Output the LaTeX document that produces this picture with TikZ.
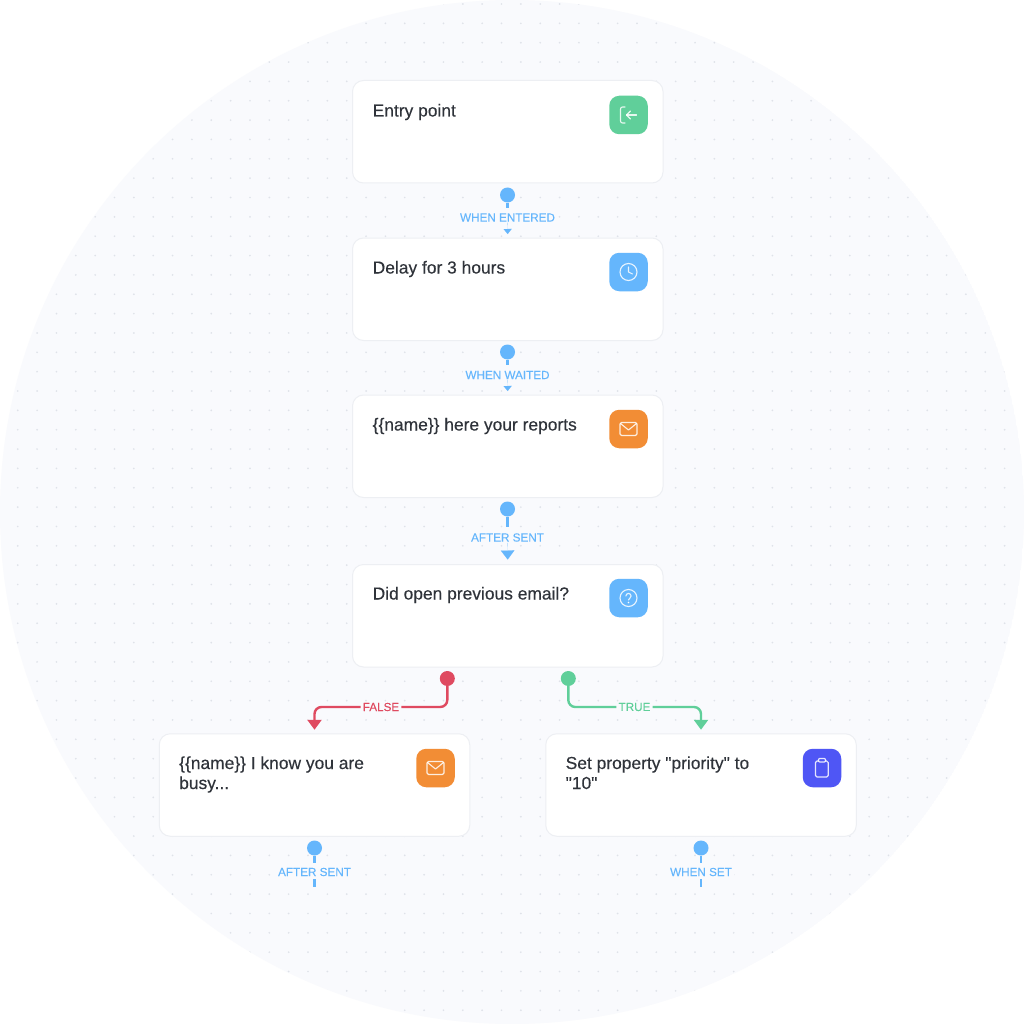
\documentclass[tikz,border=0pt]{standalone}
\usepackage{fontspec}
\newfontfamily\cardfont[FakeBold=0.25]{Liberation Sans}
\newfontfamily\labfont[FakeBold=0.1]{Liberation Sans}
\usetikzlibrary{arrows.meta}
\definecolor{bgc}{HTML}{F9FAFD}
\definecolor{dotc}{HTML}{DFE2E9}
\definecolor{cardline}{HTML}{EDEFF3}
\definecolor{ink}{HTML}{2F333A}
\definecolor{bluec}{HTML}{65B6FC}
\definecolor{greenc}{HTML}{60CF9A}
\definecolor{orangec}{HTML}{F28D35}
\definecolor{purplec}{HTML}{4F56F5}
\definecolor{redc}{HTML}{DF4A60}
\tikzset{
  card/.style={draw=cardline,line width=1pt,fill=white,rounded corners=11pt,minimum width=310.5pt,minimum height=102.5pt,inner sep=0pt},
  title/.style={anchor=base west,inner sep=0pt,align=left,text=ink,font=\cardfont\fontsize{17.4}{20}\selectfont},
  iconbox/.style={rounded corners=10pt,minimum width=38.5pt,minimum height=38.5pt,inner sep=0pt},
  pin/.style={circle,minimum size=15pt,inner sep=0pt},
  lab/.style={font=\labfont\fontsize{11.7}{13}\selectfont,fill=bgc,inner xsep=2pt,inner ysep=1pt},
  stub/.style={line width=2.4pt,draw=bluec},
  branch/.style={line width=2.4pt,rounded corners=7pt},
  branchtip/.style={-{Triangle[length=10pt,width=14pt]}},
  smalltip/.style={draw=bluec,line width=.1pt,-{Triangle[length=5pt,width=8pt]}},
  bigtip/.style={draw=bluec,line width=.1pt,-{Triangle[length=9pt,width=13.5pt]}},
  glyph/.style={draw=white,line width=1.1pt,line cap=round,line join=round,opacity=.85},
}
\begin{document}
\begin{tikzpicture}[x=1pt,y=-1pt]
\useasboundingbox[fill=white] (0,0) rectangle (1024,1024);
\begin{scope}
  \clip (512,512) circle (512);
  \fill[bgc] (512,512) circle (512);
  \fill[dotc] \foreach \i in {-18,...,34} {\foreach \j in {-10,...,43} {(346.7+\i*19.35,197.5+\j*19.35) circle (0.95)}};
\end{scope}
% cards
\node[card] (c1) at (507.75,131.75) {};
\node[card] (c2) at (507.75,289.25) {};
\node[card] (c3) at (507.75,446.25) {};
\node[card] (c4) at (507.75,615.75) {};
\node[card] (c5) at (314.5,785) {};
\node[card] (c6) at (701,785) {};
% titles
\node[title] (t1) at (372.5,116.5) {Entry point};
\node[title] (t2) at (372.5,273.5) {Delay for 3 hours};
\node[title] (t3) at (372.5,430.5) {\{\{name\}\} here your reports};
\node[title] (t4) at (372.5,599.5) {Did open previous email?};
\node[title] (t5) at (179,789) {\{\{name\}\} I know you are\\busy...};
\node[title] (t6) at (565.5,789) {Set property "priority" to\\"10"};
% icons
\node[iconbox,fill=greenc] (i1) at (628.5,115) {};
\node[iconbox,fill=bluec] (i2) at (628.5,272) {};
\node[iconbox,fill=orangec] (i3) at (628.5,429) {};
\node[iconbox,fill=bluec] (i4) at (628.5,598) {};
\node[iconbox,fill=orangec] (i5) at (435.5,768) {};
\node[iconbox,fill=purplec] (i6) at (822,768) {};
% glyphs: entry
\draw[glyph,rounded corners=2pt] ([shift={(-3.5,-8)}]i1.center) -- ([shift={(-8,-8)}]i1.center) -- ([shift={(-8,8)}]i1.center) -- ([shift={(-3.5,8)}]i1.center);
\draw[glyph] ([shift={(8,0)}]i1.center) -- ([shift={(-2,0)}]i1.center);
\draw[glyph] ([shift={(2,-4)}]i1.center) -- ([shift={(-2,0)}]i1.center) -- ([shift={(2,4)}]i1.center);
% clock
\draw[glyph] (i2.center) circle (8.5);
\draw[glyph] ([shift={(0,-5)}]i2.center) -- (i2.center) -- ([shift={(4,2)}]i2.center);
% mail
\foreach \m in {i3,i5}{
  \draw[glyph,rounded corners=1.5pt] ([shift={(-8.5,-6.5)}]\m.center) rectangle ([shift={(8.5,6.5)}]\m.center);
  \draw[glyph] ([shift={(-8,-5.5)}]\m.center) -- ([shift={(0,1)}]\m.center) -- ([shift={(8,-5.5)}]\m.center);
}
% question
\draw[glyph] (i4.center) circle (8.5);
\draw[glyph] ([shift={(-2.6,-2)}]i4.center) arc[start angle=180,end angle=420,radius=2.6] -- ([shift={(0,1.9)}]i4.center);
\fill[white] ([shift={(0,4.5)}]i4.center) circle (0.8);
% clipboard
\draw[glyph,rounded corners=1.5pt] ([shift={(-3.5,-7)}]i6.center) -- ([shift={(-6.5,-7)}]i6.center) -- ([shift={(-6.5,9)}]i6.center) -- ([shift={(6.2,9)}]i6.center) -- ([shift={(6.2,-7)}]i6.center) -- ([shift={(3.5,-7)}]i6.center);
\draw[glyph,rounded corners=1pt] ([shift={(-3.5,-9.5)}]i6.center) rectangle ([shift={(3.5,-6)}]i6.center);
% labels and pins
\node[pin,fill=bluec] (p1) at (507.5,195) {};
\node[lab,text=bluec] (l1) at (507.5,217.5) {WHEN ENTERED};
\node[pin,fill=bluec] (p2) at (507.5,352) {};
\node[lab,text=bluec] (l2) at (507.5,375) {WHEN WAITED};
\node[pin,fill=bluec] (p3) at (507.5,509) {};
\node[lab,text=bluec] (l3) at (507.5,537.5) {AFTER SENT};
\node[pin,fill=bluec] (p5) at (314.5,848) {};
\node[lab,text=bluec] (l5) at (314.5,872) {AFTER SENT};
\coordinate (e5) at (314.5,887);
\node[pin,fill=bluec] (p6) at (701,848) {};
\node[lab,text=bluec] (l6) at (701,872) {WHEN SET};
\coordinate (e6) at (701,887);
\node[pin,fill=redc] (pf) at (447.3,678.5) {};
\node[lab,text=redc] (lf) at (381,707) {FALSE};
\node[pin,fill=greenc] (pt) at (568.3,678.5) {};
\node[lab,text=greenc] (lt) at (634.5,707) {TRUE};
% stubs
\draw[stub] (p1) -- ([yshift=-5pt]p1.south);
\draw[stub] (p2) -- ([yshift=-5pt]p2.south);
\draw[stub] (p3) -- ([yshift=-10pt]p3.south);
\draw[stub] (p5) -- ([yshift=-7pt]p5.south);
\draw[stub] (p6) -- ([yshift=-7pt]p6.south);
\draw[stub,shorten <=2pt] (l5.south) -- (e5);
\draw[stub,shorten <=2pt] (l6.south) -- (e6);
% arrowheads onto the cards
\draw[smalltip,shorten >=3.5pt] (l1.south) -- (c2.north);
\draw[smalltip,shorten >=3.5pt] (l2.south) -- (c3.north);
\draw[bigtip,shorten >=4.5pt] (l3.south) -- (c4.north);
% branches
\draw[branch,redc] (pf) |- (lf.east);
\draw[branch,branchtip,redc,shorten >=3.5pt] (lf.west) -| (c5.north);
\draw[branch,greenc] (pt) |- (lt.west);
\draw[branch,branchtip,greenc,shorten >=3.5pt] (lt.east) -| (c6.north);
\end{tikzpicture}
\end{document}
